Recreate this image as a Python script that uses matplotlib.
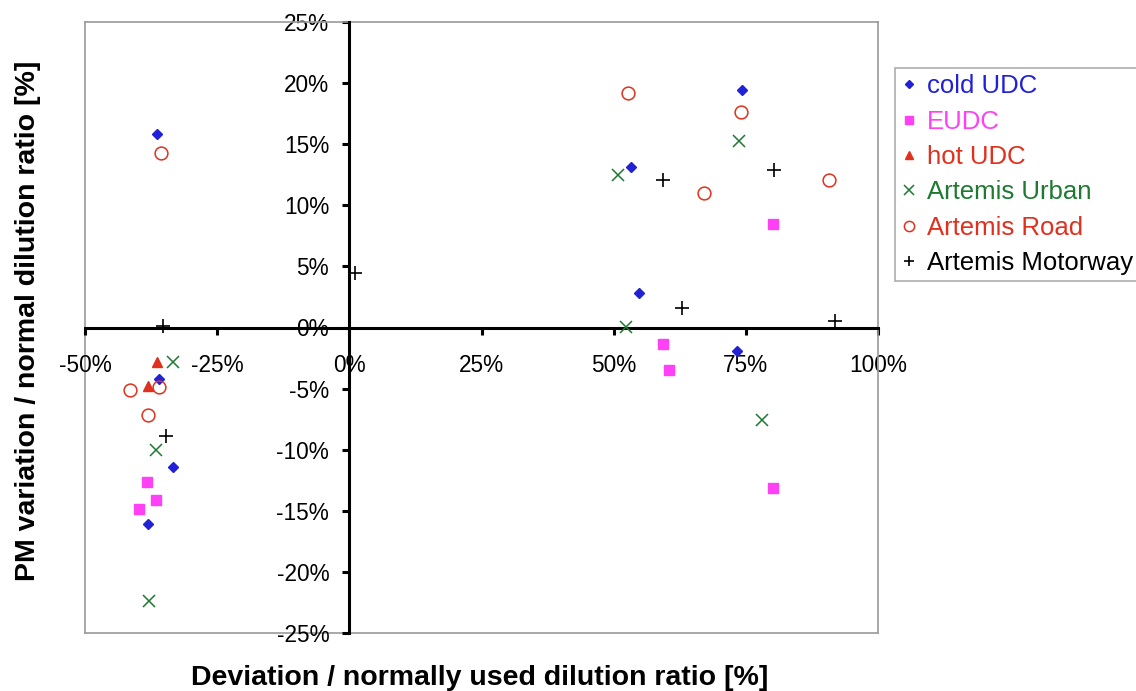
import matplotlib
matplotlib.use("Agg")
import matplotlib.pyplot as plt
from matplotlib.ticker import FuncFormatter, FixedLocator

plt.rcParams['font.family'] = ['Liberation Sans', 'DejaVu Sans']

# ---- data (percent) ----
cold_udc_x = [-36.3, -36.0, -33.4, -38.0, 74.2, 53.3, 54.8, 73.3]
cold_udc_y = [15.8, -4.2, -11.45, -16.1, 19.45, 13.1, 2.8, -1.9]

eudc_x = [-38.3, -36.5, -39.8, 80.2, 59.3, 60.5, 80.2]
eudc_y = [-12.65, -14.1, -14.85, 8.45, -1.35, -3.45, -13.1]

hot_udc_x = [-36.4, -38.0]
hot_udc_y = [-2.85, -4.75]

urban_x = [-33.3, -36.6, -37.9, 73.7, 50.8, 52.3, 78.1]
urban_y = [-2.85, -10.0, -22.4, 15.3, 12.5, 0.05, -7.6]

road_x = [-35.6, -36.0, -41.5, -38.0, 52.8, 74.1, 67.0, 90.7]
road_y = [14.3, -4.9, -5.1, -7.2, 19.2, 17.6, 11.0, 12.1]

motorway_x = [1.1, -35.2, -34.7, 59.4, 80.4, 63.0, 91.9]
motorway_y = [4.45, 0.15, -8.9, 12.05, 12.85, 1.6, 0.55]

x_ticks = [-50, -25, 0, 25, 50, 75, 100]
y_ticks = [-25, -20, -15, -10, -5, 0, 5, 10, 15, 20, 25]

BLUE = '#2121d6'
MAGENTA = '#ff40f5'
RED = '#e0301e'
GREEN = '#1e7a30'
BLACK = '#000000'
GRAY = '#9a9a9a'

W, H = 1136, 691
fig = plt.figure(figsize=(W / 100, H / 100), dpi=100)
ax = fig.add_axes([85 / W, 1 - 633 / H, (878 - 85) / W, (633 - 22) / H])

series = [
    ("cold UDC", cold_udc_x, cold_udc_y, dict(marker='D', ms=5.6, color=BLUE, mec=BLUE, mfc=BLUE, ls='none'), BLUE),
    ("EUDC", eudc_x, eudc_y, dict(marker='s', ms=7, color=MAGENTA, mec=MAGENTA, mfc=MAGENTA, ls='none'), MAGENTA),
    ("hot UDC", hot_udc_x, hot_udc_y, dict(marker='^', ms=6.5, color=RED, mec=RED, mfc=RED, ls='none'), RED),
    ("Artemis Urban", urban_x, urban_y, dict(marker='x', ms=8.5, color=GREEN, mew=1.1, ls='none'), GREEN),
    ("Artemis Road", road_x, road_y, dict(marker='o', ms=9.2, mfc='none', mec=RED, mew=1.1, ls='none'), RED),
    ("Artemis Motorway", motorway_x, motorway_y, dict(marker='+', ms=9.5, color=BLACK, mew=1.2, ls='none'), BLACK),
]

handles = []
for name, xs, ys, kw, c in series:
    h, = ax.plot(xs, ys, label=name, clip_on=False, zorder=5, **kw)
    handles.append(h)

ax.set_xlim(-50, 100)
ax.set_ylim(-25, 25)

# spines through zero
for s in ['left', 'bottom']:
    ax.spines[s].set_position('zero')
    ax.spines[s].set_color('black')
    ax.spines[s].set_linewidth(2.2)
    ax.spines[s].set_zorder(3)
for s in ['top', 'right']:
    ax.spines[s].set_color(GRAY)
    ax.spines[s].set_linewidth(1.2)
# gray outer frame on left and bottom
ax.plot([0, 0], [0, 1], transform=ax.transAxes, color=GRAY, lw=1.2, clip_on=False, zorder=1)
ax.plot([0, 1], [0, 0], transform=ax.transAxes, color=GRAY, lw=1.2, clip_on=False, zorder=1)

ax.xaxis.set_major_locator(FixedLocator(x_ticks))
ax.yaxis.set_major_locator(FixedLocator(y_ticks))
fmt = FuncFormatter(lambda v, p: f"{int(round(v))}%")
ax.xaxis.set_major_formatter(fmt)
ax.yaxis.set_major_formatter(fmt)
ax.tick_params(axis='both', direction='out', length=5, width=2.2, color='black', labelsize=16.3)
ax.tick_params(axis='x', pad=14)
ax.tick_params(axis='y', pad=9.5)

fig.text(479.5 / W, 1 - 685 / H, "Deviation / normally used dilution ratio [%]",
         ha='center', va='baseline', fontsize=20.5, fontweight='bold')
fig.text(28 / W, 1 - 321 / H, "PM variation / normal dilution ratio [%]",
         ha='center', va='center', rotation=90, fontsize=20.5, fontweight='bold')

leg = fig.legend(handles=handles, loc='upper left', bbox_to_anchor=(895 / W, 1 - 68 / H),
                 fontsize=18.5, frameon=True, fancybox=False, edgecolor=GRAY,
                 markerscale=0.8, handlelength=0.6, handletextpad=0.4,
                 borderpad=0.25, labelspacing=0.44, borderaxespad=0)
leg.get_frame().set_linewidth(1.2)
for t, (_, _, _, _, c) in zip(leg.get_texts(), series):
    t.set_color(c)

fig.savefig("out.png", dpi=100)
